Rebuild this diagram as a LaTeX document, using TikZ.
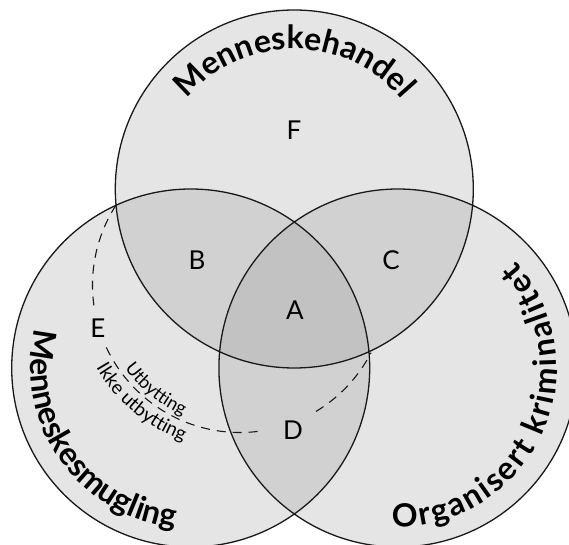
\documentclass[tikz,border=0pt]{standalone}
\usepackage{fontspec}
\setmainfont{Lato}
\usetikzlibrary{decorations.text,calc}
\newcommand\biglab{\fontsize{32}{32}\selectfont\bfseries}
\newcommand\smalllab{\fontsize{18}{18}\selectfont}
\newcommand\smalllabb{\fontsize{19}{19}\selectfont}
\newcommand\regionlab{\fontsize{26}{26}\selectfont}
\definecolor{cone}{gray}{0.90}
\definecolor{ctwo}{gray}{0.82}
\definecolor{cthree}{gray}{0.76}
\definecolor{cline}{gray}{0.1}
\begin{document}
\begin{tikzpicture}[x=1pt,y=1pt,
  venn/.style={draw=cline,line width=1.3pt},
  dashline/.style={draw=cline,line width=1.1pt,dash pattern=on 9pt off 7pt},
  region/.style={font=\regionlab,inner sep=0pt}]
\useasboundingbox (0,0) rectangle (569,544);
\clip (0,0) rectangle (569,544);
\coordinate (T) at (294.3,355);
\coordinate (L) at (190.7,176);
\coordinate (R) at (397.9,176);
\coordinate (K) at (240,259);
\fill[cone] (T) circle[radius=179] (L) circle[radius=179] (R) circle[radius=179];
\begin{scope}
  \clip (T) circle[radius=179];
  \fill[ctwo] (L) circle[radius=179] (R) circle[radius=179];
\end{scope}
\begin{scope}
  \clip (L) circle[radius=179];
  \fill[ctwo] (R) circle[radius=179];
\end{scope}
\begin{scope}
  \clip (T) circle[radius=179];
  \clip (L) circle[radius=179];
  \fill[cthree] (R) circle[radius=179];
\end{scope}
\path[venn] (T) circle[radius=179] (L) circle[radius=179] (R) circle[radius=179];
% dashed arc
\draw[dashline] ($(K)+(147.2:147.5)$) arc[start angle=147.2,end angle=189,radius=147.5];
\draw[dashline] ($(K)+(205:147.5)$) arc[start angle=205,end angle=279,radius=147.5];
\draw[dashline] ($(K)+(301:147.5)$) arc[start angle=301,end angle=332.7,radius=147.5];
% region letters
\node[region] (F) at (294,414) {F};
\node[region] (B) at (197,284) {B};
\node[region] (C) at (391,284) {C};
\node[region] (A) at (295,234) {A};
\node[region] (D) at (293,114) {D};
\node[region] (E) at (98,216) {E};
% circle labels
\path[decorate,decoration={text along path,text={|\biglab|Menneskehandel},text align=center}]
  ($(T)+(142:140)$) arc[start angle=142,end angle=38,radius=140];
\path[decorate,decoration={text along path,text={|\biglab|Menneskesmugling},text align=center}]
  ($(L)+(162:160)$) arc[start angle=162,end angle=268,radius=160];
\path[decorate,decoration={text along path,text={|\biglab|Organisert kriminalitet},text align=fit to path}]
  ($(R)+(268:159)$) arc[start angle=268,end angle=402,radius=159];
% dashed-line labels
\path[decorate,decoration={text along path,text={|\smalllab|Utbytting},text align=center}]
  ($(K)+(204:142)$) arc[start angle=204,end angle=258,radius=142];
\path[decorate,decoration={text along path,text={|\smalllabb|Ikke utbytting},text align=center}]
  ($(K)+(198:166)$) arc[start angle=198,end angle=262,radius=166];
\end{tikzpicture}
\end{document}
